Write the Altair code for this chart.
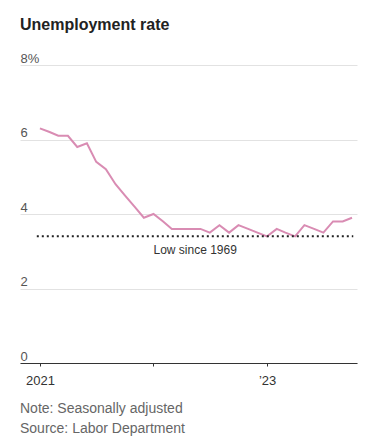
import altair as alt
import pandas as pd

months = pd.date_range("2021-01-01", "2023-10-01", freq="MS").strftime("%Y-%m-%d").tolist()
rates = [6.3, 6.2, 6.1, 6.1, 5.8, 5.9, 5.4, 5.2, 4.8, 4.5, 4.2, 3.9,
         4.0, 3.8, 3.6, 3.6, 3.6, 3.6, 3.5, 3.7, 3.5, 3.7, 3.6, 3.5,
         3.4, 3.6, 3.5, 3.4, 3.7, 3.6, 3.5, 3.8, 3.8, 3.9]
low_value = 3.4
low_start, low_end = "2020-12-22", "2023-10-05"
low_label = "Low since 1969"
low_label_date = "2022-05-15"
y_ticks = [0, 2, 4, 6, 8]
x_ticks = ["2021-01-01", "2022-01-01", "2023-01-01"]
x_domain = ["2020-10-29", "2023-10-17"]
title_text = "Unemployment rate"
notes = ["Note: Seasonally adjusted", "Source: Labor Department"]

FONT = "Liberation Sans"
W, H = 337, 298

df = pd.DataFrame({"date": months, "rate": rates})
low_df = pd.DataFrame({"date": [low_start], "date2": [low_end], "v": [low_value]})
lab_df = pd.DataFrame({"date": [low_label_date], "v": [low_value], "t": [low_label]})

xscale = alt.Scale(domain=x_domain)
yscale = alt.Scale(domain=[0, 8], nice=False)

line = alt.Chart(df).mark_line(color="#d98cb3", strokeWidth=2).encode(
    x=alt.X("date:T", scale=xscale, title=None,
            axis=alt.Axis(values=x_ticks, labelExpr="year(datum.value) == 2021 ? '2021' : (year(datum.value) == 2023 ? '\u201923' : '')",
                          grid=False, domainColor="#333", tickColor="#333", tickSize=3,
                          labelFont=FONT, labelFontSize=13, labelColor="#333", labelPadding=8,
                          labelAlign="center")),
    y=alt.Y("rate:Q", scale=yscale, title=None,
            axis=alt.Axis(values=y_ticks, labelExpr="datum.value == 8 ? '8%' : datum.label",
                          domain=False, ticks=False, tickSize=0, labelPadding=0,
                          labelAlign="left", labelBaseline="alphabetic", labelOffset=-3,
                          gridColor="#e2e2e2", gridWidth=1,
                          labelFont=FONT, labelFontSize=13, labelColor="#555")),
)

rule = alt.Chart(low_df).mark_rule(color="#222", strokeWidth=2, strokeDash=[2, 3]).encode(
    x=alt.X("date:T", scale=xscale), x2="date2:T", y=alt.Y("v:Q", scale=yscale)
)

label = alt.Chart(lab_df).mark_text(font=FONT, fontSize=12, color="#333", baseline="alphabetic", dy=18).encode(
    x=alt.X("date:T", scale=xscale), y=alt.Y("v:Q", scale=yscale), text="t:N"
)

title = alt.Chart(pd.DataFrame({"t": [title_text]})).mark_text(
    font=FONT, fontSize=16, fontWeight="bold", color="#222", align="left", baseline="alphabetic"
).encode(x=alt.value(0), y=alt.value(-35), text="t:N")

note1 = alt.Chart(pd.DataFrame({"t": [notes[0]]})).mark_text(
    font=FONT, fontSize=14, color="#666", align="left", baseline="alphabetic"
).encode(x=alt.value(0), y=alt.value(348), text="t:N")
note2 = alt.Chart(pd.DataFrame({"t": [notes[1]]})).mark_text(
    font=FONT, fontSize=14, color="#666", align="left", baseline="alphabetic"
).encode(x=alt.value(0), y=alt.value(368), text="t:N")

chart = alt.layer(line, rule, label, title, note1, note2).properties(
    width=W, height=H,
    background="white",
    autosize=alt.AutoSizeParams(type="none"),
    padding={"left": 12, "top": 57, "right": 8, "bottom": 80},
).configure_view(strokeWidth=0, stroke=None)

chart.save("out.html", embed_options={"renderer": "svg", "actions": False})
